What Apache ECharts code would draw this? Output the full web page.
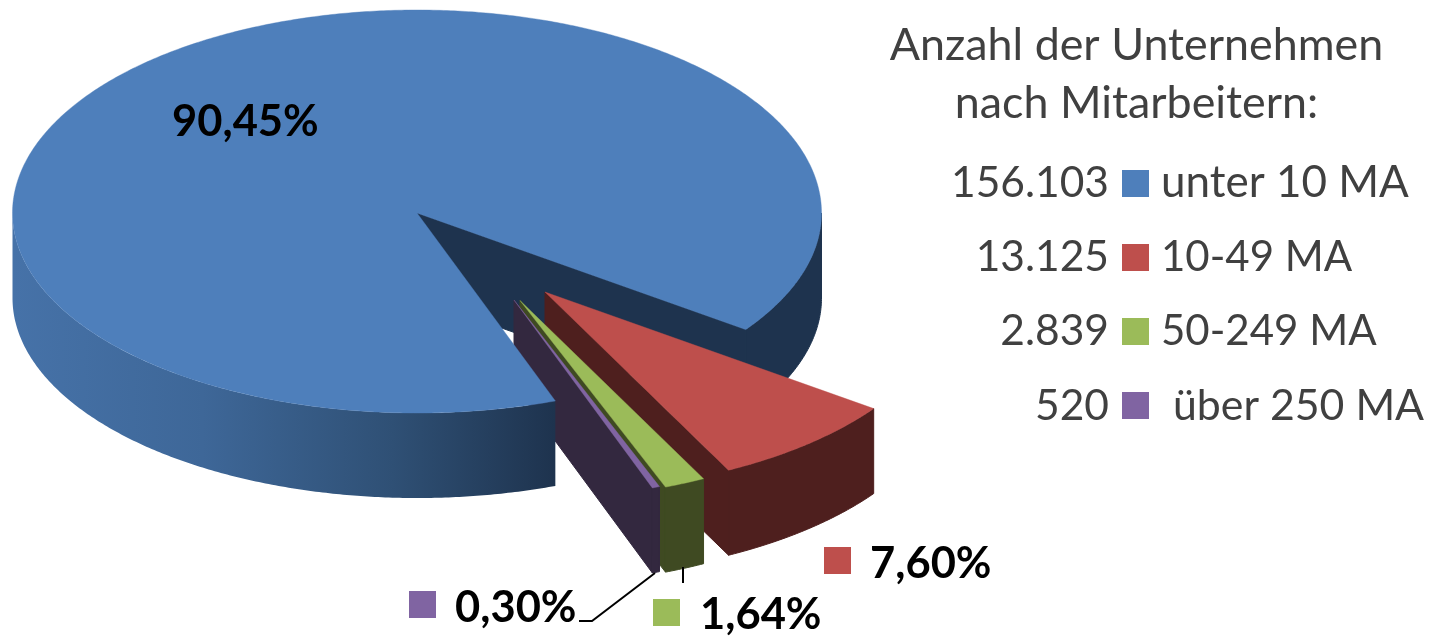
<!DOCTYPE html>
<html><head><meta charset="utf-8">
<style>html,body{margin:0;padding:0;background:#fff}#c{width:1435px;height:636px}</style>
<script src="https://cdn.jsdelivr.net/npm/echarts@6/dist/echarts.min.js"></script>
</head><body><div id="c"></div>
<script>
// --- data ---
const categories = ['unter 10 MA', '10-49 MA', '50-249 MA', 'über 250 MA'];
const companyCounts = [156103, 13125, 2839, 520];
const percentages = [90.45, 7.60, 1.64, 0.30];
const titleLines = ['Anzahl der Unternehmen', 'nach Mitarbeitern:'];

// --- style ---
const topColors = ['#4e7fbb', '#be4f4c', '#9bbb59', '#8064a2'];
const wallColors = ['#1e334e', '#4e1f1e', '#3f4a22', '#33283f'];
const frontGradient = {type:'linear', x:13, y:0, x2:555, y2:0, global:true, colorStops:[
  {offset:0, color:'#4672a8'}, {offset:0.35, color:'#3e6798'}, {offset:0.7, color:'#2f5075'}, {offset:1, color:'#1e334e'}]};
const startAngle = 70, rx = 404.5, ryFront = 200, ryBack = 203, depth = 85;
const apexes = [[417,213],[545,292],[520,300.5],[514,300]];

// slice angles follow the percentages
const sum = percentages.reduce((a,b)=>a+b,0);
const spans = []; let acc = startAngle;
percentages.forEach(p=>{ const s = p/sum*360; spans.push([acc, acc+s]); acc += s; });

function pt(i, deg, dy){
  const r = deg*Math.PI/180, s = Math.sin(r);
  return [apexes[i][0]+rx*Math.cos(r), apexes[i][1]+(s<0?ryBack:ryFront)*s+(dy||0)];
}
function arc(i, a, b, dy){
  const out=[], n=Math.max(2,Math.ceil((b-a)/0.5));
  for(let k=0;k<=n;k++) out.push(pt(i, a+(b-a)*k/n, dy));
  return out;
}
function facePoints(i, face){
  const [a0,a1]=spans[i];
  if(face==='top') return [apexes[i]].concat(arc(i,a0,a1));
  if(face==='cut'){ const e=pt(i,a1), z=apexes[i];
    return [z,e,[e[0],e[1]+depth],[z[0],z[1]+depth]]; }
  // outer wall, only the part facing the viewer
  let a=a0,b=a1;
  if(face==='outerBack'){ a=Math.max(a0,360); }
  if(face==='outerFront'){ b=Math.min(a1,180); }
  return arc(i,a,b).concat(arc(i,a,b,depth).reverse());
}
// painter's order: slice index and face
const drawOrder = [
 [0,'cut'],[0,'outerBack'],
 [1,'cut'],[1,'outer'],[1,'top'],
 [2,'cut'],
 [3,'cut'],[3,'outer'],[3,'top'],
 [0,'outerFront'],[0,'top'],
 [2,'outer'],[2,'top']
];

const FONT='Lato';
function fmtCount(n){ return String(n).replace(/\B(?=(\d{3})+$)/g,'.'); }
function fmtPct(p){ return p.toFixed(2).replace('.',',')+'%'; }
function txt(text,x,base,size,opt){
  opt=opt||{};
  return {type:'text',x:x,y:base-size*0.30,silent:true,z:20,style:{text:text,fontFamily:FONT,fontSize:size,
    fontWeight:opt.bold?'bold':'normal',fill:opt.fill||'#404040',textAlign:opt.align||'left',textVerticalAlign:'middle'}};
}
function square(x,y,c){ return {type:'rect',silent:true,z:20,shape:{x:x,y:y,width:27,height:27},style:{fill:c}}; }

const legendRows=[[170,196],[244,270],[318,344],[392,419]];
const nameX=[1161,1161,1161,1173];
const nameSizes=[44,42,42,42.8];
const valueLabels=[[172,135],[870,577],[700,628],[455,621]];
const valueSquares=[null,[824,547],[653,599],[409,591]];

const g=[];
g.push(txt(titleLines[0],1136.5,59,44.8,{align:'center'}));
g.push(txt(titleLines[1],1136.5,117,44.8,{align:'center'}));
categories.forEach((c,i)=>{
  g.push(txt(fmtCount(companyCounts[i]),1109,legendRows[i][1],42.5,{align:'right'}));
  g.push({type:'rect',silent:true,z:20,shape:{x:1122,y:legendRows[i][0],width:27,height:27},style:{fill:topColors[i]}});
  g.push(txt(c,nameX[i],legendRows[i][1],nameSizes[i]));
  g.push(txt(fmtPct(percentages[i]),valueLabels[i][0],valueLabels[i][1],43.5,{bold:true,fill:'#000'}));
  if(valueSquares[i]) g.push(square(valueSquares[i][0],valueSquares[i][1],topColors[i]));
});
g.push({type:'polyline',silent:true,z:20,shape:{points:[[579,621],[592,621],[655,573]]},style:{stroke:'#000',lineWidth:2,fill:null}});
g.push({type:'line',silent:true,z:20,shape:{x1:683,y1:567,x2:683,y2:583},style:{stroke:'#000',lineWidth:2}});

const chart=echarts.init(document.getElementById('c'),null,{renderer:'canvas'});
chart.setOption({
  animation:false,
  backgroundColor:'#fff',
  graphic:{elements:g},
  series:[{
    type:'custom',
    coordinateSystem:'none',
    silent:true,
    data:drawOrder.map(o=>[percentages[o[0]]]),
    renderItem:function(params){
      const [i,face]=drawOrder[params.dataIndex];
      const isTop=face==='top';
      let fill=isTop?topColors[i]:wallColors[i];
      if(face==='outerFront') fill=frontGradient;
      const stroke=fill===frontGradient?null:fill;
      return {type:'polygon',shape:{points:facePoints(i,face)},style:{fill:fill,stroke:stroke,lineWidth:isTop?0.4:1}};
    }
  }]
});
</script></body></html>
